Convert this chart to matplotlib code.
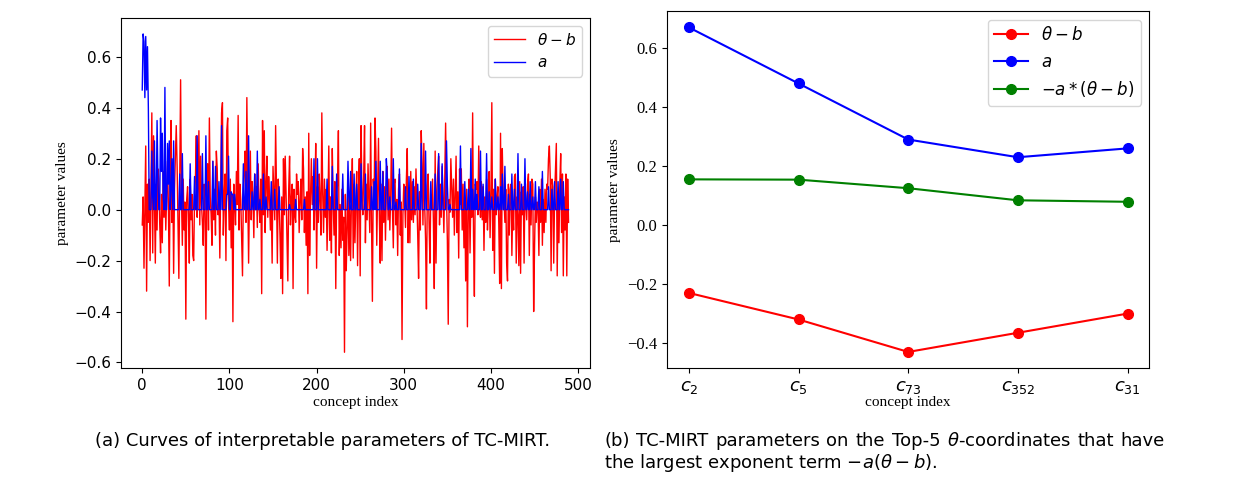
import numpy as np
import matplotlib.pyplot as plt

# (a) per-concept parameters, index 0..489
theta_b = [
    -0.06, 0.05, -0.23, 0.02, 0.25, -0.32, 0.10, -0.05, 0.12, -0.20,
    0.08, 0.38, -0.17, 0.29, 0.04, -0.21, 0.10, -0.08, 0.16, 0.12,
    -0.05, -0.17, 0.06, -0.13, 0.15, -0.03, 0.10, -0.08, 0.05, 0.19,
    0.02, -0.30, 0.12, 0.35, -0.05, 0.14, -0.25, 0.08, 0.20, 0.33,
    0.17, -0.06, -0.27, 0.10, 0.51, 0.05, -0.14, 0.12, -0.08, 0.03,
    -0.43, 0.04, 0.09, -0.02, -0.21, 0.12, -0.04, 0.06, -0.18, -0.20,
    0.05, 0.12, 0.29, -0.03, 0.08, 0.31, -0.06, 0.21, 0.02, -0.05,
    -0.14, 0.10, 0.04, -0.43, 0.06, 0.18, -0.08, 0.36, 0.05, -0.02,
    -0.14, 0.19, -0.04, 0.08, -0.10, 0.23, 0.16, -0.02, 0.06, -0.19,
    0.10, 0.38, 0.42, -0.10, 0.05, 0.14, -0.20, 0.31, 0.36, 0.02,
    -0.08, 0.12, -0.15, 0.06, -0.44, 0.10, 0.03, -0.06, 0.15, 0.02,
    0.37, -0.08, 0.10, 0.04, -0.12, -0.26, 0.08, 0.15, 0.23, -0.05,
    0.44, 0.08, -0.21, 0.06, 0.23, -0.04, 0.11, 0.05, -0.11, 0.14,
    0.00, 0.09, -0.07, 0.18, 0.02, -0.05, 0.12, -0.33, 0.35, -0.02,
    0.31, -0.09, 0.10, 0.21, -0.03, 0.13, 0.05, -0.08, 0.02, -0.21,
    0.17, 0.06, -0.04, 0.33, 0.08, -0.21, 0.12, 0.03, -0.10, -0.27,
    0.05, -0.33, 0.20, -0.02, 0.21, 0.06, -0.12, -0.28, 0.08, 0.21,
    -0.06, 0.04, 0.10, -0.31, 0.08, -0.02, -0.05, 0.14, 0.06, 0.11,
    -0.09, 0.03, 0.12, -0.04, 0.24, 0.16, -0.09, 0.05, -0.14, 0.07,
    -0.33, 0.30, -0.18, 0.05, 0.20, 0.02, 0.13, -0.08, 0.04, 0.26,
    -0.23, 0.09, -0.05, 0.14, 0.04, -0.10, 0.38, 0.06, -0.09, 0.12,
    -0.03, 0.08, -0.16, 0.02, 0.25, -0.12, 0.05, -0.17, 0.24, 0.03,
    -0.10, 0.11, -0.31, 0.06, 0.10, 0.31, -0.18, 0.02, -0.15, 0.08,
    -0.12, -0.03, -0.56, 0.06, -0.24, -0.08, 0.12, -0.18, 0.00, -0.20,
    0.05, 0.20, -0.19, 0.10, -0.13, 0.04, 0.15, -0.22, 0.08, 0.20,
    -0.26, 0.33, 0.06, -0.02, 0.13, 0.33, -0.13, 0.10, -0.04, 0.18,
    0.05, -0.09, 0.34, -0.05, -0.36, 0.12, 0.06, 0.36, 0.23, -0.14,
    0.08, 0.28, -0.03, -0.21, 0.10, -0.20, 0.15, -0.05, 0.09, -0.12,
    0.07, 0.17, -0.04, 0.12, -0.08, 0.05, 0.32, 0.00, -0.15, 0.10,
    0.12, -0.06, 0.04, -0.18, 0.08, 0.14, -0.10, 0.03, -0.51, -0.02,
    0.10, 0.05, -0.07, 0.12, 0.24, -0.13, 0.06, -0.13, 0.15, -0.04,
    0.11, -0.05, 0.09, -0.02, 0.16, 0.04, -0.10, -0.27, 0.07, -0.08,
    0.31, 0.18, -0.06, 0.26, 0.02, -0.12, -0.39, 0.09, 0.14, -0.05,
    -0.21, 0.06, 0.00, 0.12, -0.05, -0.31, 0.23, -0.21, 0.08, 0.15,
    0.21, -0.06, 0.10, -0.03, 0.17, 0.05, -0.09, 0.12, 0.34, 0.06,
    -0.12, -0.45, 0.04, -0.01, 0.20, 0.08, -0.03, 0.12, -0.10, 0.05,
    0.21, -0.09, 0.07, -0.19, 0.16, 0.02, 0.16, -0.08, 0.10, -0.15,
    0.04, -0.28, 0.08, -0.46, 0.00, 0.12, -0.17, 0.05, -0.03, 0.38,
    -0.10, -0.34, 0.10, 0.08, 0.11, -0.02, 0.25, 0.05, -0.03, 0.11,
    -0.04, 0.09, -0.16, 0.05, -0.05, 0.12, -0.08, 0.02, 0.15, -0.11,
    0.06, 0.42, -0.16, 0.08, -0.25, 0.12, -0.02, 0.05, 0.09, -0.06,
    -0.29, 0.30, -0.31, 0.24, 0.06, 0.04, -0.05, 0.08, -0.21, -0.28,
    0.10, -0.10, 0.08, 0.10, -0.18, 0.02, -0.08, 0.13, 0.14, -0.21,
    0.05, -0.02, -0.22, 0.11, -0.25, 0.07, -0.02, 0.09, -0.21, 0.10,
    0.03, -0.04, 0.10, 0.14, -0.18, 0.06, -0.06, 0.12, 0.10, -0.40,
    -0.15, 0.05, -0.05, 0.03, 0.01, -0.18, 0.08, -0.05, 0.12, -0.14,
    0.04, -0.09, 0.08, -0.05, 0.10, 0.08, 0.20, 0.25, 0.13, -0.24,
    0.12, 0.09, -0.21, 0.05, 0.15, 0.26, -0.26, 0.07, -0.13, 0.10,
    0.22, -0.09, 0.14, -0.26, 0.05, -0.08, 0.14, -0.26, 0.12, -0.05,
]

# a is zero except at these concept indices
a_idx = [0, 1, 2, 3, 4, 5, 6, 7, 11, 12, 14, 17, 18, 21, 22, 23, 24, 26, 29, 30,
         31, 33, 34, 36, 43, 46, 55, 60, 63, 69, 73, 76, 81, 84, 88, 91, 97, 98, 99, 102,
         103, 104, 106, 116, 119, 122, 126, 129, 132, 135, 139, 142, 148, 152, 157, 169, 176, 186, 197, 201,
         212, 218, 223, 230, 236, 237, 239, 243, 246, 251, 256, 263, 266, 268, 273, 276, 280, 281, 284, 288,
         291, 295, 302, 306, 311, 316, 320, 325, 331, 336, 340, 344, 349, 350, 353, 365, 370, 374, 377, 379,
         382, 384, 388, 391, 395, 398, 401, 405, 408, 411, 413, 416, 420, 424, 427, 431, 435, 439, 442, 445,
         448, 451, 455, 459, 466, 470, 473, 477, 480, 483]
a_val = [0.47, 0.69, 0.66, 0.44, 0.68, 0.47, 0.64, 0.40, 0.23, 0.05, 0.27, 0.35, 0.12, 0.36, 0.15, 0.30, 0.05, 0.48, 0.26, 0.10,
         0.27, 0.08, 0.20, 0.27, 0.14, 0.22, 0.18, 0.13, 0.29, 0.22, 0.29, 0.11, 0.19, 0.17, 0.11, 0.33, 0.06, 0.06, 0.21, 0.07,
         0.06, 0.06, 0.06, 0.18, 0.15, 0.29, 0.07, 0.14, 0.23, 0.04, 0.14, 0.05, 0.11, 0.08, 0.09, 0.02, 0.04, 0.04, 0.20, 0.20,
         0.12, 0.17, 0.14, 0.14, 0.19, 0.05, 0.15, 0.14, 0.10, 0.18, 0.14, 0.09, 0.11, 0.19, 0.19, 0.15, 0.20, 0.14, 0.05, 0.20,
         0.03, 0.16, 0.09, 0.13, 0.12, 0.10, 0.26, 0.23, 0.11, 0.14, 0.22, 0.18, 0.27, 0.10, 0.02, 0.25, 0.11, 0.08, 0.24, 0.08,
         0.12, 0.06, 0.23, 0.10, 0.22, 0.07, 0.05, 0.12, 0.05, 0.09, 0.14, 0.17, 0.06, 0.14, 0.08, 0.22, 0.10, 0.20, 0.07, 0.11,
         0.05, 0.11, 0.09, 0.15, 0.09, 0.08, 0.11, 0.11, 0.12, 0.11]

# (b) top-5 concepts
top_labels = ['$c_{2}$', '$c_{5}$', '$c_{73}$', '$c_{352}$', '$c_{31}$']
top_theta_b = [-0.23, -0.32, -0.43, -0.365, -0.30]
top_a = [0.67, 0.48, 0.29, 0.23, 0.26]
top_exp = [0.155, 0.154, 0.125, 0.084, 0.079]

x = np.arange(len(theta_b))
a = np.zeros(len(theta_b))
a[a_idx] = a_val

fig = plt.figure(figsize=(12.34, 4.87), dpi=100)
serif = 'Liberation Serif'
cap = dict(family='DejaVu Sans', fontsize=13, va='center')

ax1 = fig.add_axes([0.098, 0.244, 0.380, 0.719])
ax1.plot(x, theta_b, color='red', lw=1.0, label=r'$\theta-b$')
ax1.plot(x, a, color='blue', lw=1.0, label=r'$a$')
ax1.set_xticks([0, 100, 200, 300, 400, 500])
ax1.set_yticks([-0.6, -0.4, -0.2, 0.0, 0.2, 0.4, 0.6])
ax1.tick_params(labelsize=11)
ax1.set_xlabel('concept index', family=serif, fontsize=11, labelpad=2)
ax1.set_ylabel('parameter values', family=serif, fontsize=11)
ax1.legend(loc='upper right', fontsize=11)

ax2 = fig.add_axes([0.5405, 0.244, 0.391, 0.733])
pos = np.arange(len(top_labels))
ax2.plot(pos, top_theta_b, color='red', marker='o', ms=7, lw=1.5, label=r'$\theta-b$')
ax2.plot(pos, top_a, color='blue', marker='o', ms=7, lw=1.5, label=r'$a$')
ax2.plot(pos, top_exp, color='green', marker='o', ms=7, lw=1.5, label=r'$-a*(\theta-b)$')
ax2.set_xticks(pos)
ax2.set_xticklabels(top_labels, fontsize=13)
ax2.set_yticks([-0.4, -0.2, 0.0, 0.2, 0.4, 0.6])
ax2.set_yticklabels(['\u22120.4', '\u22120.2', '0.0', '0.2', '0.4', '0.6'])
ax2.tick_params(axis='y', labelsize=12, labelfontfamily=serif)
ax2.set_xlabel('concept index', family=serif, fontsize=11, labelpad=0)
ax2.set_ylabel('parameter values', family=serif, fontsize=11)
ax2.legend(loc='upper right', fontsize=12)

fig.text(0.261, 0.094, '(a) Curves of interpretable parameters of TC-MIRT.', ha='center', **cap)

# justified first line of caption (b)
words = ['(b)', 'TC-MIRT', 'parameters', 'on', 'the', 'Top-5', r'$\theta$-coordinates', 'that', 'have']
W = fig.get_figwidth() * fig.dpi
x0, x1 = 604, 1165
r = fig.canvas.get_renderer()
texts = [fig.text(0, 0.094, w, ha='left', **cap) for w in words]
widths = [t.get_window_extent(r).width for t in texts]
gap = (x1 - x0 - sum(widths)) / (len(words) - 1)
px = x0
for t, w in zip(texts, widths):
    t.set_x(px / W)
    px += w + gap
fig.text(x0 / W, 0.049, r'the largest exponent term $-a(\theta-b)$.', ha='left', **cap)

fig.savefig('out.png', dpi=100)
